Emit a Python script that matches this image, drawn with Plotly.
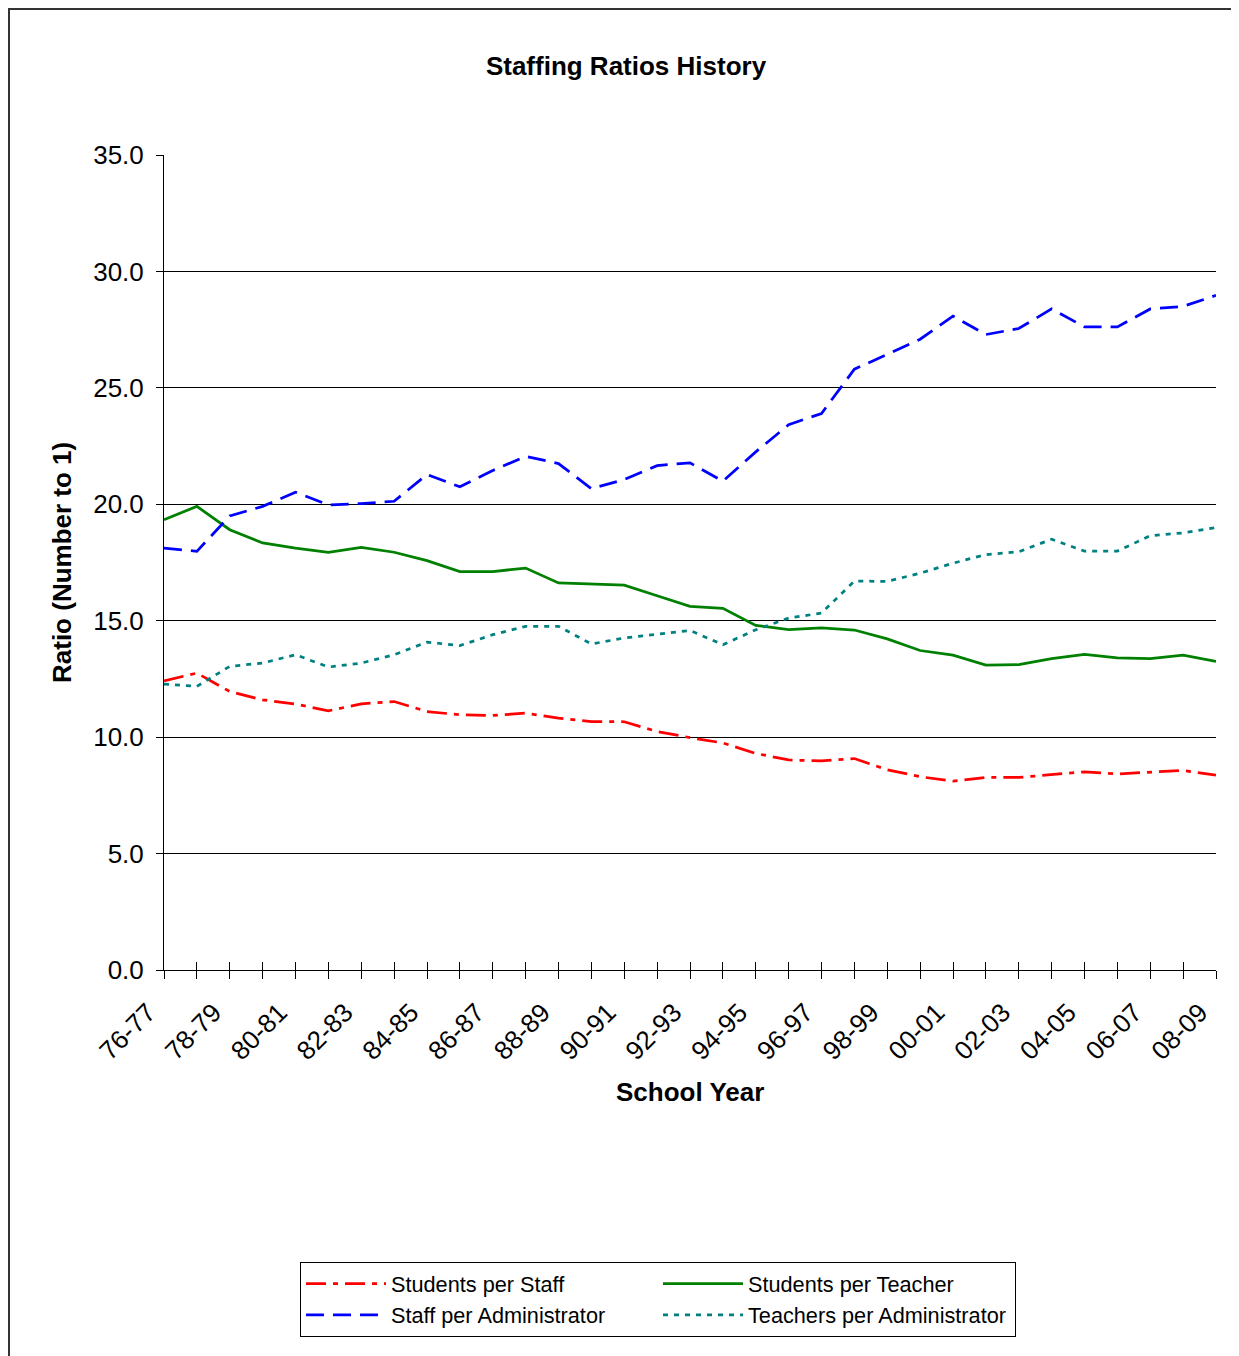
import plotly.graph_objects as go

# ---------------- data ----------------
years = ["76-77", "77-78", "78-79", "79-80", "80-81", "81-82", "82-83", "83-84",
         "84-85", "85-86", "86-87", "87-88", "88-89", "89-90", "90-91", "91-92",
         "92-93", "93-94", "94-95", "95-96", "96-97", "97-98", "98-99", "99-00",
         "00-01", "01-02", "02-03", "03-04", "04-05", "05-06", "06-07", "07-08",
         "08-09"]

students_per_staff = [12.42, 12.75, 11.96, 11.60, 11.42, 11.13, 11.43, 11.53,
                      11.10, 10.96, 10.93, 11.03, 10.82, 10.67, 10.66, 10.24,
                      9.98, 9.75, 9.30, 9.02, 8.98, 9.08, 8.60, 8.30,
                      8.11, 8.27, 8.27, 8.40, 8.51, 8.42, 8.48, 8.57, 8.37]

students_per_teacher = [19.34, 19.91, 18.91, 18.34, 18.12, 17.94, 18.15, 17.94,
                        17.58, 17.11, 17.11, 17.26, 16.62, 16.59, 16.53, 16.07,
                        15.62, 15.53, 14.80, 14.62, 14.69, 14.60, 14.22, 13.72,
                        13.52, 13.09, 13.11, 13.37, 13.55, 13.40, 13.37, 13.52, 13.25]

staff_per_admin = [18.12, 17.98, 19.50, 19.91, 20.52, 19.97, 20.03, 20.13,
                   21.28, 20.75, 21.45, 22.06, 21.75, 20.67, 21.06, 21.66,
                   21.78, 20.99, 22.25, 23.42, 23.90, 25.80, 26.44, 27.09,
                   28.08, 27.29, 27.55, 28.39, 27.62, 27.62, 28.39, 28.50, 28.97]

teachers_per_admin = [12.28, 12.18, 13.04, 13.18, 13.54, 13.01, 13.18, 13.54,
                      14.08, 13.93, 14.40, 14.76, 14.76, 14.00, 14.26, 14.43,
                      14.58, 13.97, 14.61, 15.11, 15.33, 16.70, 16.69, 17.04,
                      17.47, 17.84, 17.96, 18.50, 17.99, 17.99, 18.65, 18.77, 19.00]

series_names = ["Students per Staff", "Students per Teacher",
                "Staff per Administrator", "Teachers per Administrator"]

tick_labels = [y if i % 2 == 0 else "" for i, y in enumerate(years)]

# ---------------- layout geometry ----------------
# the page body has an 8px margin, so the figure is drawn 8px in from the corner
FONT = "Liberation Sans, Arial, sans-serif"
OFF = 8
W, H = 1239 - OFF, 1356 - OFF
L = 164 - OFF
T = 155 - OFF
R = W - (1216 - OFF)
B = H - (970 - OFF)
PW = W - L - R
PH = H - T - B


def px_x(x):
    """page x (reference pixels) -> paper x"""
    return (x - OFF - L) / PW


def px_y(y):
    """page y (reference pixels) -> paper y"""
    return (H - B - (y - OFF)) / PH


styles = [
    ("#FF0000", "20px,7px,5px,7px"),
    ("#008000", "solid"),
    ("#0000FF", "18px,9px"),
    ("#008080", "5px,6px"),
]
values = [students_per_staff, students_per_teacher, staff_per_admin, teachers_per_admin]

fig = go.Figure()
for name, vals, (color, dash) in zip(series_names, values, styles):
    fig.add_trace(go.Scatter(x=years, y=vals, name=name, mode="lines",
                             line=dict(color=color, width=2.75, dash=dash)))

# helper trace for the inner half of the crossing tick marks
fig.add_trace(go.Scatter(x=years, y=[None] * len(years), xaxis="x2", yaxis="y2",
                         mode="lines", showlegend=False, hoverinfo="skip"))

axis_font = dict(family=FONT, size=26, color="black")

fig.update_layout(
    width=W, height=H,
    margin=dict(l=L, r=R, t=T, b=B, autoexpand=False),
    paper_bgcolor="white", plot_bgcolor="white",
    font=dict(family=FONT, color="black"),
    title=dict(text="<b>Staffing Ratios History</b>", xref="container", yref="container",
               x=(626 - OFF) / W, y=1 - (66 - OFF) / H, xanchor="center", yanchor="middle",
               font=dict(family=FONT, size=26, color="black")),
    xaxis=dict(type="category", categoryorder="array", categoryarray=years,
               range=[0, len(years) - 1],
               tickmode="array", tickvals=years, ticktext=tick_labels,
               tickangle=-45, ticks="outside", ticklen=8, tickwidth=1, tickcolor="black",
               ticklabelshift=-16, ticklabelstandoff=8,
               showline=True, linecolor="black", linewidth=1,
               showgrid=False, zeroline=False, tickfont=axis_font, automargin=False),
    yaxis=dict(range=[0, 35], tick0=0, dtick=5, tickformat=".1f",
               ticks="outside", ticklen=7, tickwidth=1, tickcolor="black",
               ticklabelstandoff=7,
               showline=True, linecolor="black", linewidth=1,
               showgrid=True, gridcolor="black", gridwidth=1,
               zeroline=False, tickfont=axis_font, automargin=False),
    xaxis2=dict(type="category", categoryorder="array", categoryarray=years,
                overlaying="x", anchor="y", range=[0, len(years) - 1],
                tickmode="array", tickvals=years, ticks="inside", ticklen=8,
                tickwidth=1, tickcolor="black", showticklabels=False,
                showgrid=False, showline=False, zeroline=False),
    yaxis2=dict(overlaying="y", anchor="x", side="left", range=[0, 35], tick0=0, dtick=5,
                ticks="inside", ticklen=7, tickwidth=1, tickcolor="black",
                showticklabels=False, showgrid=False, showline=False, zeroline=False),
    legend=dict(orientation="h", x=px_x(300), y=px_y(1262), xanchor="left", yanchor="top",
                bordercolor="black", borderwidth=1, bgcolor="white",
                font=dict(family=FONT, size=21.7, color="black"),
                itemwidth=80, entrywidth=262, entrywidthmode="pixels",
                traceorder="normal"),
    showlegend=True,
    annotations=[
        dict(text="<b>Ratio (Number to 1)</b>", xref="paper", yref="paper",
             x=px_x(62), y=px_y(563), textangle=-90, showarrow=False,
             xanchor="center", yanchor="middle",
             font=dict(family=FONT, size=26, color="black")),
        dict(text="<b>School Year</b>", xref="paper", yref="paper",
             x=px_x(690), y=px_y(1092), showarrow=False,
             xanchor="center", yanchor="middle",
             font=dict(family=FONT, size=26, color="black")),
    ],
    shapes=[
        dict(type="rect", xref="paper", yref="paper",
             x0=px_x(OFF + 1), x1=px_x(1239 + 40), y0=px_y(1356 + 40), y1=px_y(OFF + 1),
             line=dict(color="#333333", width=2), fillcolor="rgba(0,0,0,0)", layer="below"),
    ],
)

fig.write_html("out.html")
